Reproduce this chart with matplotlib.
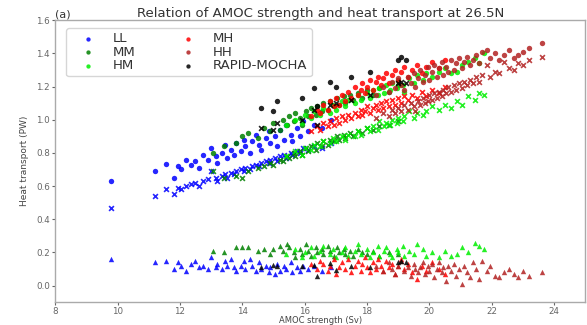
import matplotlib
matplotlib.use("Agg")
import matplotlib.pyplot as plt

# ---------------- data ----------------
# each ensemble: AMOC strength and three heat transport components (o: total, x: overturning, ^: gyre)
LL_amoc = [9.8, 11.2, 11.55, 11.8, 11.95, 12.05, 12.2, 12.35, 12.5, 12.6, 12.75, 12.9, 13.0, 13.15, 13.2,
           13.35, 13.45, 13.5, 13.65, 13.75, 13.8, 13.95, 14.05, 14.1, 14.25, 14.3, 14.45, 14.55, 14.6, 14.75,
           14.85, 14.9, 15.05, 15.1, 15.2, 15.35, 15.4, 15.55, 15.6, 15.75, 15.85, 15.95, 16.1, 16.3, 16.55, 16.85]
LL_total = [0.63, 0.69, 0.735, 0.65, 0.72, 0.70, 0.76, 0.73, 0.75, 0.71, 0.79, 0.76, 0.83, 0.78, 0.74,
            0.80, 0.85, 0.77, 0.82, 0.79, 0.86, 0.81, 0.88, 0.84, 0.80, 0.87, 0.91, 0.85, 0.82, 0.89,
            0.93, 0.86, 0.90, 0.84, 0.94, 0.88, 0.97, 0.91, 0.87, 0.95, 0.90, 0.99, 0.93, 0.97, 0.95, 1.00]
LL_over = [0.47, 0.54, 0.58, 0.55, 0.59, 0.58, 0.60, 0.61, 0.62, 0.60, 0.63, 0.64, 0.69, 0.65, 0.63,
           0.66, 0.67, 0.65, 0.68, 0.67, 0.69, 0.70, 0.69, 0.71, 0.70, 0.72, 0.73, 0.72, 0.74, 0.75,
           0.74, 0.76, 0.77, 0.75, 0.78, 0.79, 0.77, 0.80, 0.79, 0.81, 0.80, 0.83, 0.82, 0.84, 0.83, 0.86]
LL_gyre = [0.16, 0.145, 0.15, 0.10, 0.14, 0.12, 0.09, 0.13, 0.15, 0.11, 0.12, 0.10, 0.17, 0.11, 0.13,
           0.10, 0.15, 0.12, 0.16, 0.11, 0.09, 0.12, 0.15, 0.10, 0.16, 0.12, 0.09, 0.14, 0.10, 0.12,
           0.08, 0.11, 0.07, 0.13, 0.09, 0.12, 0.10, 0.14, 0.08, 0.11, 0.09, 0.12, 0.10, 0.12, 0.09, 0.11]

MM_amoc = [13.05, 13.4, 13.8, 14.0, 14.2, 14.5, 14.7, 14.9, 15.0, 15.2, 15.3, 15.45, 15.5, 15.65, 15.7,
           15.85, 15.9, 16.05, 16.1, 16.2, 16.35, 16.4, 16.55, 16.6, 16.75, 16.8, 16.95, 17.05, 17.1, 17.25,
           17.3, 17.45, 17.55, 17.7, 17.85, 18.0, 18.2, 18.4, 18.7, 19.0]
MM_total = [0.80, 0.84, 0.86, 0.90, 0.92, 0.89, 0.95, 0.93, 0.98, 0.94, 1.00, 0.97, 1.02, 0.99, 1.04,
            1.01, 0.97, 1.05, 1.02, 1.07, 1.03, 1.08, 1.05, 1.10, 1.06, 1.11, 1.08, 1.13, 1.09, 1.14,
            1.10, 1.15, 1.12, 1.16, 1.13, 1.18, 1.15, 1.19, 1.17, 1.21]
MM_over = [0.69, 0.65, 0.66, 0.65, 0.69, 0.71, 0.72, 0.74, 0.73, 0.76, 0.75, 0.78, 0.77, 0.80, 0.78,
           0.81, 0.79, 0.83, 0.81, 0.84, 0.82, 0.86, 0.84, 0.87, 0.85, 0.88, 0.87, 0.90, 0.88, 0.91,
           0.89, 0.92, 0.90, 0.93, 0.92, 0.95, 0.94, 0.96, 0.97, 0.99]
MM_gyre = [0.21, 0.20, 0.23, 0.235, 0.23, 0.21, 0.22, 0.19, 0.22, 0.24, 0.21, 0.25, 0.23, 0.20, 0.17,
           0.22, 0.19, 0.25, 0.21, 0.18, 0.23, 0.20, 0.22, 0.19, 0.24, 0.21, 0.18, 0.23, 0.20, 0.22,
           0.19, 0.21, 0.18, 0.22, 0.20, 0.19, 0.21, 0.18, 0.20, 0.19]

HM_amoc = [15.4, 15.7, 15.9, 16.0, 16.2, 16.3, 16.5, 16.6, 16.8, 16.9, 17.0, 17.2, 17.3, 17.4, 17.6,
           17.7, 17.8, 18.0, 18.1, 18.2, 18.35, 18.4, 18.55, 18.6, 18.75, 18.8, 18.95, 19.0, 19.15, 19.2,
           19.35, 19.5, 19.6, 19.8, 19.9, 20.1, 20.3, 20.5, 20.7, 20.9, 21.05, 21.25, 21.45, 21.6, 21.75]
HM_total = [0.97, 1.00, 0.98, 1.03, 1.01, 1.05, 1.03, 1.07, 1.04, 1.09, 1.06, 1.11, 1.08, 1.12, 1.10,
            1.15, 1.12, 1.16, 1.13, 1.18, 1.15, 1.19, 1.16, 1.21, 1.18, 1.22, 1.19, 1.24, 1.21, 1.17,
            1.25, 1.22, 1.27, 1.24, 1.28, 1.26, 1.29, 1.31, 1.28, 1.29, 1.33, 1.35, 1.37, 1.34, 1.40]
HM_over = [0.78, 0.81, 0.79, 0.83, 0.82, 0.85, 0.84, 0.87, 0.86, 0.89, 0.87, 0.90, 0.88, 0.91, 0.90,
           0.93, 0.91, 0.95, 0.93, 0.96, 0.94, 0.99, 0.96, 0.98, 0.97, 1.00, 0.98, 1.01, 0.99, 1.02,
           1.05, 1.01, 1.04, 1.03, 1.05, 1.08, 1.06, 1.09, 1.07, 1.11, 1.09, 1.14, 1.12, 1.16, 1.15]
HM_gyre = [0.19, 0.22, 0.17, 0.20, 0.23, 0.18, 0.21, 0.24, 0.19, 0.22, 0.17, 0.20, 0.23, 0.18, 0.21,
           0.25, 0.19, 0.22, 0.17, 0.20, 0.24, 0.18, 0.21, 0.23, 0.19, 0.17, 0.22, 0.20, 0.24, 0.18,
           0.21, 0.19, 0.25, 0.22, 0.18, 0.20, 0.17, 0.21, 0.18, 0.19, 0.23, 0.20, 0.255, 0.24, 0.22]

MH_amoc = [16.2, 16.4, 16.5, 16.6, 16.75, 16.8, 16.95, 17.0, 17.1, 17.2, 17.3, 17.4, 17.5, 17.6, 17.7,
           17.8, 17.85, 17.95, 18.0, 18.1, 18.2, 18.3, 18.35, 18.45, 18.5, 18.6, 18.7, 18.8, 18.9, 19.0,
           19.1, 19.2, 19.3, 19.45, 19.6, 19.75, 19.9, 20.1, 20.3, 20.5]
MH_total = [1.02, 1.06, 1.04, 1.09, 1.06, 1.11, 1.08, 1.13, 1.09, 1.15, 1.11, 1.17, 1.13, 1.20, 1.15,
            1.18, 1.22, 1.16, 1.20, 1.24, 1.18, 1.23, 1.26, 1.21, 1.25, 1.28, 1.22, 1.27, 1.30, 1.24,
            1.29, 1.32, 1.26, 1.30, 1.33, 1.28, 1.32, 1.35, 1.31, 1.36]
MH_over = [0.93, 0.96, 0.94, 0.98, 0.96, 0.99, 0.97, 1.01, 0.98, 1.02, 1.00, 1.03, 1.01, 1.04, 1.02,
           1.06, 1.03, 1.05, 1.08, 1.04, 1.07, 1.09, 1.06, 1.10, 1.07, 1.11, 1.08, 1.12, 1.09, 1.13,
           1.10, 1.14, 1.12, 1.15, 1.13, 1.17, 1.14, 1.18, 1.16, 1.20]
MH_gyre = [0.13, 0.10, 0.15, 0.13, 0.09, 0.12, 0.16, 0.07, 0.11, 0.14, 0.10, 0.16, 0.08, 0.12, 0.15,
           0.09, 0.13, 0.17, 0.11, 0.08, 0.14, 0.10, 0.16, 0.12, 0.09, 0.15, 0.11, 0.13, 0.07, 0.12,
           0.16, 0.10, 0.13, 0.08, 0.04, 0.12, 0.09, 0.14, 0.10, 0.07]

HH_amoc = [18.3, 18.5, 18.7, 18.8, 18.9, 19.0, 19.1, 19.2, 19.3, 19.4, 19.5, 19.55, 19.65, 19.7, 19.8,
           19.85, 19.95, 20.0, 20.1, 20.15, 20.25, 20.3, 20.4, 20.45, 20.55, 20.6, 20.7, 20.8, 20.85, 20.95,
           21.05, 21.1, 21.2, 21.3, 21.4, 21.5, 21.6, 21.7, 21.85, 21.95, 22.1, 22.25, 22.4, 22.55, 22.7,
           22.85, 23.0, 23.2, 23.6]
HH_total = [1.15, 1.20, 1.17, 1.23, 1.19, 1.25, 1.21, 1.18, 1.26, 1.22, 1.28, 1.20, 1.25, 1.30, 1.23,
            1.27, 1.32, 1.24, 1.29, 1.33, 1.26, 1.31, 1.35, 1.27, 1.32, 1.29, 1.36, 1.30, 1.34, 1.37,
            1.31, 1.35, 1.38, 1.33, 1.36, 1.39, 1.34, 1.41, 1.42, 1.37, 1.40, 1.36, 1.39, 1.42, 1.37,
            1.39, 1.41, 1.43, 1.46]
HH_over = [1.01, 1.04, 1.02, 1.06, 1.04, 1.07, 1.05, 1.09, 1.06, 1.10, 1.08, 1.05, 1.11, 1.09, 1.13,
           1.10, 1.11, 1.15, 1.12, 1.16, 1.13, 1.17, 1.14, 1.18, 1.16, 1.20, 1.17, 1.21, 1.18, 1.22,
           1.19, 1.23, 1.21, 1.24, 1.22, 1.26, 1.23, 1.27, 1.33, 1.26, 1.29, 1.28, 1.35, 1.31, 1.30,
           1.34, 1.33, 1.36, 1.38]
HH_gyre = [0.12, 0.09, 0.14, 0.10, 0.07, 0.12, 0.15, 0.09, 0.11, 0.06, 0.13, 0.10, 0.08, 0.11, 0.14,
           0.07, 0.12, 0.09, 0.13, 0.05, 0.10, 0.14, 0.08, 0.11, 0.03, 0.12, 0.09, 0.13, 0.06, 0.10,
           0.01, 0.12, 0.08, 0.05, 0.14, 0.10, 0.04, 0.15, 0.09, 0.12, 0.06, 0.05, 0.08, 0.10, 0.07,
           0.05, 0.09, 0.06, 0.08]

RAPID_amoc = [14.6, 15.0, 15.1, 15.9, 16.3, 16.4, 16.8, 17.0, 17.5, 18.1, 19.0, 19.1, 19.25]
RAPID_total = [1.07, 1.05, 1.11, 1.13, 1.19, 1.08, 1.23, 1.20, 1.26, 1.29, 1.36, 1.38, 1.36]
RAPID_over = [0.95, 0.94, 0.98, 1.00, 1.06, 0.97, 1.09, 1.10, 1.12, 1.15, 1.22, 1.23, 1.22]
RAPID_gyre = [0.11, 0.125, 0.12, 0.12, 0.125, 0.06, 0.135, 0.095, 0.12, 0.11, 0.14, 0.15, 0.14]

groups = [
    ("LL", "#0000ff", LL_amoc, LL_total, LL_over, LL_gyre),
    ("MM", "#008000", MM_amoc, MM_total, MM_over, MM_gyre),
    ("HM", "#00ee00", HM_amoc, HM_total, HM_over, HM_gyre),
    ("MH", "#ff0000", MH_amoc, MH_total, MH_over, MH_gyre),
    ("HH", "#b22222", HH_amoc, HH_total, HH_over, HH_gyre),
    ("RAPID-MOCHA", "#000000", RAPID_amoc, RAPID_total, RAPID_over, RAPID_gyre),
]

# ---------------- figure ----------------
fig = plt.figure(figsize=(5.87, 3.25), dpi=100)
ax = fig.add_axes([0.094, 0.07, 0.903, 0.868])

for name, col, xs, tot, ov, gy in groups:
    ax.scatter(xs, tot, s=15, c=col, marker="o", alpha=0.85, linewidths=0, label=name, zorder=3)
    ax.scatter(xs, ov, s=12, c=col, marker="x", alpha=0.85, linewidths=1.2, zorder=3)
    ax.scatter(xs, gy, s=15, c=col, marker="^", alpha=0.85, linewidths=0, zorder=3)

ax.set_xlim(8, 25)
ax.set_ylim(-0.1, 1.6)
ax.set_xticks([8, 10, 12, 14, 16, 18, 20, 22, 24])
ax.set_yticks([0.0, 0.2, 0.4, 0.6, 0.8, 1.0, 1.2, 1.4, 1.6])
ax.set_yticklabels(["0.0", "0.2", "0.4", "0.6", "0.8", "1.0", "1.2", "1.4", "1.6"])
ax.tick_params(labelsize=6.3, colors="#666666", length=2.5, width=0.8, pad=1.2)
for sp in ax.spines.values():
    sp.set_color("#aaaaaa")
    sp.set_linewidth(1.0)

ax.set_title("Relation of AMOC strength and heat transport at 26.5N", fontsize=9.5, color="#333333", pad=2)
ax.set_title("(a)", loc="left", fontsize=8, color="#333333", pad=2)
ax.set_xlabel("AMOC strength (Sv)", fontsize=6.0, color="#444444")
ax.xaxis.set_label_coords(0.5, -0.05)
ax.set_ylabel("Heat transport (PW)", fontsize=6.5, color="#444444", labelpad=5,
              family=["Liberation Sans Narrow", "DejaVu Sans"])

leg = ax.legend(loc="upper left", ncol=2, fontsize=9.5, markerscale=0.8, frameon=True,
                bbox_to_anchor=(0.008, 0.995), columnspacing=2.6, handletextpad=0.56,
                labelspacing=0.05, borderpad=0.3, handlelength=2.7)
leg.get_frame().set_edgecolor("#cccccc")
for t in leg.get_texts():
    t.set_color("#333333")

fig.savefig("out.png", dpi=100)
